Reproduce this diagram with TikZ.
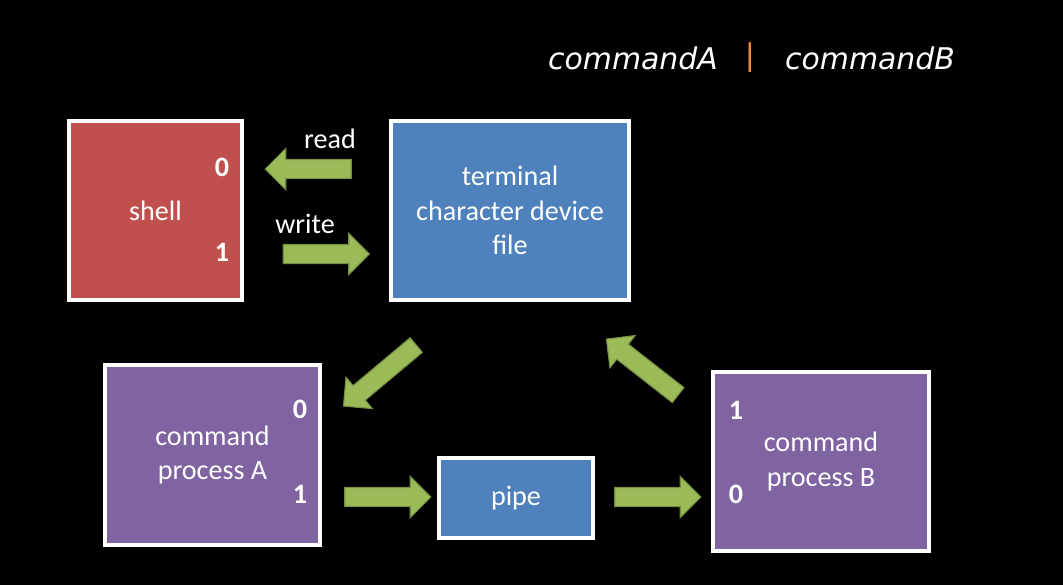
\documentclass[tikz,border=0pt]{standalone}
\usepackage{fontspec}
\setmainfont{Carlito}
\newfontfamily\titlefont{DejaVu Sans}
\usetikzlibrary{shapes,arrows,positioning}

\definecolor{shellred}{HTML}{C0504D}
\definecolor{devblue}{HTML}{4F81BD}
\definecolor{procpurple}{HTML}{8064A2}
\definecolor{arrowgreen}{HTML}{9BBB59}
\definecolor{barorange}{HTML}{F08A3C}

\begin{document}
\begin{tikzpicture}[
    box/.style={draw=white, line width=0.9pt, rectangle, align=center, text=white, font=\fontsize{8}{9.8}\selectfont},
    garrow/.style={single arrow, fill=arrowgreen, draw=arrowgreen!75!black, line width=0.3pt,
        inner xsep=0pt, inner ysep=0.09cm,
        minimum width=0.40cm, minimum height=0.86cm, single arrow head extend=0.11cm},
    fd/.style={text=white, font=\fontsize{8}{9.8}\selectfont\bfseries},
    label/.style={text=white, font=\fontsize{8}{9.8}\selectfont},
    title/.style={text=white, font=\titlefont\itshape\fontsize{8.5}{10}\selectfont},
]

\fill[black] (0,0) rectangle (10.63,5.85);
\useasboundingbox (0,0) rectangle (10.63,5.85);

% Title
\node[title] (cmda) at (6.33, 5.27) {commandA};
\node[title, text=barorange] (bar) at (7.50, 5.27) {|};
\node[title] (cmdb) at (8.70, 5.27) {commandB};

% Shell and terminal
\node[box, fill=shellred, minimum width=1.73cm, minimum height=1.79cm] (shell) at (1.555, 3.745) {shell};
\node[box, fill=devblue, minimum width=2.38cm, minimum height=1.79cm] (term) at (5.10, 3.745) {terminal\\character device\\file};

% Processes and pipe
\node[box, fill=procpurple, minimum width=2.15cm, minimum height=1.80cm] (proca) at (2.125, 1.30) {command\\process A};
\node[box, fill=devblue, minimum width=1.54cm, minimum height=0.80cm] (pipe) at (5.16, 0.87) {pipe};
\node[box, fill=procpurple, minimum width=2.16cm, minimum height=1.79cm] (procb) at (8.21, 1.235) {command\\process B};

% File descriptors
\node[fd] (shell0) at (2.22, 4.18) {0};
\node[fd] (shell1) at (2.22, 3.33) {1};
\node[fd] (proca0) at (3.00, 1.76) {0};
\node[fd] (proca1) at (3.00, 0.91) {1};
\node[fd] (procb1) at (7.36, 1.75) {1};
\node[fd] (procb0) at (7.36, 0.91) {0};

% Data flow
\node[garrow, rotate=180] (readarr) at (3.13, 4.16) {};
\node[garrow] (writearr) at (3.215, 3.31) {};
\node[garrow, rotate=220, minimum height=0.95cm] (termtoa) at (3.835, 2.125) {};
\node[garrow] (atopipe) at (3.83, 0.88) {};
\node[garrow] (pipetob) at (6.53, 0.88) {};
\node[garrow, rotate=142, minimum height=0.91cm] (btoterm) at (6.46, 2.15) {};

\node[label] (readlbl) at (3.30, 4.46) {read};
\node[label] (writelbl) at (3.05, 3.61) {write};

\end{tikzpicture}
\end{document}
